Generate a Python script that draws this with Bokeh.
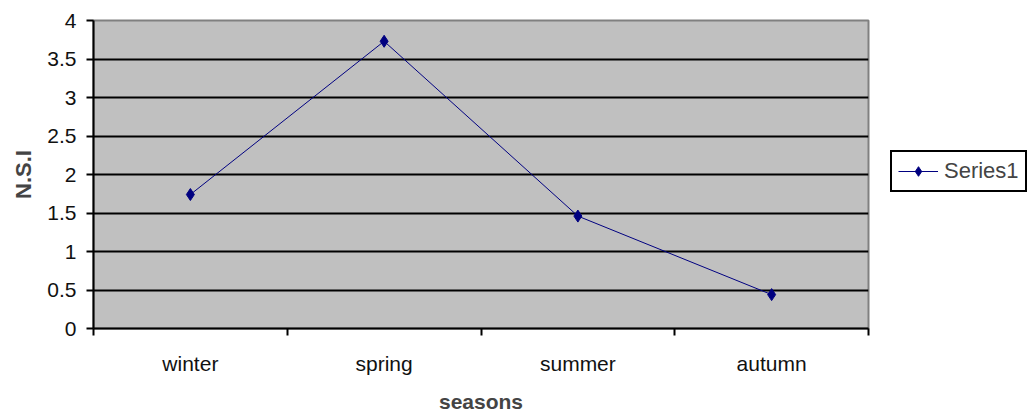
from bokeh.plotting import figure
from bokeh.models import FixedTicker, Legend, LegendItem, Range1d
from bokeh.embed import file_html
from bokeh.resources import INLINE

seasons = ["winter", "spring", "summer", "autumn"]
nsi = [1.74, 3.73, 1.46, 0.44]
y_ticks = [0, 0.5, 1, 1.5, 2, 2.5, 3, 3.5, 4]

xs = [i + 0.5 for i in range(len(seasons))]

p = figure(frame_width=775, frame_height=308, output_backend="svg", toolbar_location=None,
           x_range=Range1d(0, len(seasons)), y_range=Range1d(0, 4),
           min_border_left=93, min_border_top=20, min_border_bottom=84, min_border_right=0)
p.background_fill_color = "#C0C0C0"
p.border_fill_color = "white"
p.outline_line_color = "#808080"
p.outline_line_width = 2

FONT = "Liberation Sans"

# x axis
p.xaxis.ticker = FixedTicker(ticks=xs, minor_ticks=list(range(len(seasons) + 1)))
p.xaxis.major_label_overrides = {x: s for x, s in zip(xs, seasons)}
p.xaxis.major_tick_out = 0
p.xaxis.major_tick_in = 0
p.xaxis.minor_tick_out = 7
p.xaxis.minor_tick_in = 0
p.xaxis.minor_tick_line_color = "black"
p.xaxis.minor_tick_line_width = 2
p.xaxis.axis_line_color = "black"
p.xaxis.axis_line_width = 2
p.xaxis.major_label_standoff = 16
p.xaxis.major_label_text_font = FONT
p.xaxis.major_label_text_font_size = "21px"
p.xaxis.major_label_text_color = "#111111"
p.xaxis.axis_label = "seasons"
p.xaxis.axis_label_text_font = FONT
p.xaxis.axis_label_text_font_size = "21px"
p.xaxis.axis_label_text_font_style = "bold"
p.xaxis.axis_label_standoff = 12

# y axis
p.yaxis.ticker = FixedTicker(ticks=y_ticks, minor_ticks=[])
p.yaxis.major_label_overrides = {0: "0", 1: "1", 2: "2", 3: "3", 4: "4"}
p.yaxis.major_tick_out = 7
p.yaxis.major_tick_in = 0
p.yaxis.major_tick_line_width = 2
p.yaxis.axis_line_width = 2
p.yaxis.major_label_standoff = 10
p.yaxis.major_label_text_font = FONT
p.yaxis.major_label_text_font_size = "21px"
p.yaxis.major_label_text_color = "#111111"
p.yaxis.axis_label = "N.S.I"
p.yaxis.axis_label_text_font = FONT
p.yaxis.axis_label_text_font_size = "22px"
p.yaxis.axis_label_text_font_style = "bold"
p.yaxis.axis_label_standoff = 8

p.xgrid.visible = False
p.ygrid.ticker = FixedTicker(ticks=y_ticks)
p.ygrid.grid_line_color = "black"
p.ygrid.grid_line_width = 2

ln = p.line(xs, nsi, line_color="#000080", line_width=1)
mk = p.scatter(xs, nsi, marker="diamond", size=12, fill_color="#000080", line_color="#000080")

legend = Legend(items=[LegendItem(label="Series1", renderers=[ln, mk])],
                location=(22, 136), orientation="vertical",
                border_line_color="black", border_line_width=2, border_line_alpha=1,
                background_fill_color="white", background_fill_alpha=1,
                label_text_font=FONT, label_text_font_size="22px",
                glyph_width=40, glyph_height=24, label_standoff=6,
                padding=6, margin=0, spacing=0)
p.add_layout(legend, "right")

open("out.html", "w").write(file_html(p, INLINE))
